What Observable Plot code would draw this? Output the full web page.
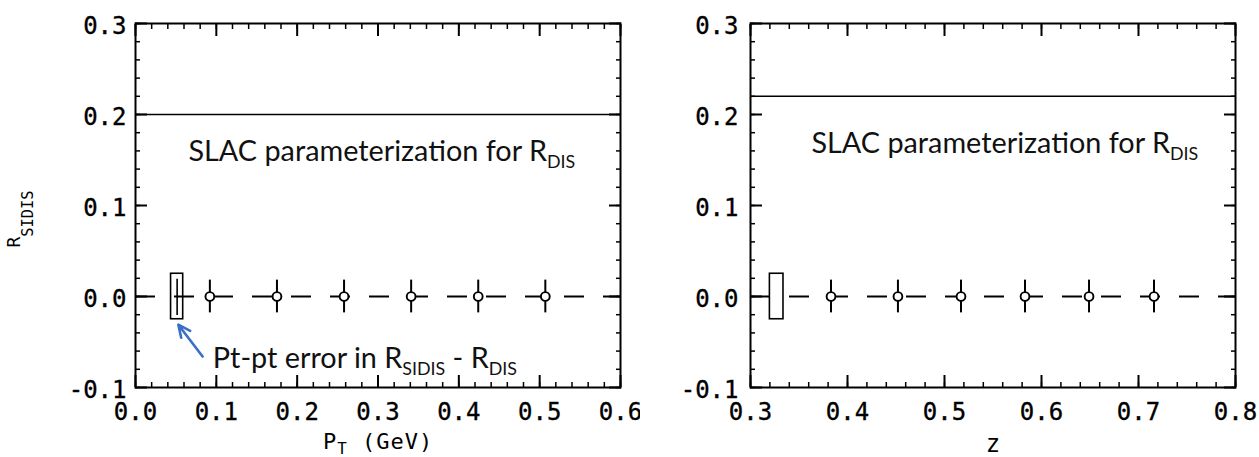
<!DOCTYPE html>
<html><head><meta charset="utf-8">
<script src="https://cdn.jsdelivr.net/npm/d3@7"></script>
<script src="https://cdn.jsdelivr.net/npm/@observablehq/plot@0.6"></script>
<style>
body{margin:0;background:#fff;}
#wrap{display:flex;width:1259px;height:457px;overflow:hidden;background:#fff;}
#wrap svg{overflow:visible;}
g[aria-label="y-axis tick label"] text, g[aria-label="x-axis tick label"] text{stroke:black;stroke-width:0.35px;}
.axlab text{letter-spacing:1px;}
</style></head><body><div id="wrap"></div>
<script>
// ---- Left panel: R_SIDIS vs P_T ----
const ptX   = [0.092, 0.175, 0.258, 0.341, 0.424, 0.507];
const ptR   = [0, 0, 0, 0, 0, 0];
const ptErr = [0.018, 0.018, 0.018, 0.018, 0.018, 0.018];
const ptBoxX = [0.044, 0.059];     // point-to-point error box (x extent)
const ptBoxY = [-0.025, 0.025];    // (y extent)
const ptBoxC = 0.0515;
const ptSlac = 0.20;
const ptTicks = [0.0, 0.1, 0.2, 0.3, 0.4, 0.5, 0.6];

// ---- Right panel: R_SIDIS vs z ----
const zX   = [0.383, 0.452, 0.517, 0.583, 0.649, 0.716];
const zR   = [0, 0, 0, 0, 0, 0];
const zErr = [0.018, 0.018, 0.018, 0.018, 0.018, 0.018];
const zBoxX = [0.320, 0.334];
const zBoxY = [-0.025, 0.025];
const zSlac = 0.22;
const zTicks = [0.3, 0.4, 0.5, 0.6, 0.7, 0.8];

const yTicks = [-0.1, 0.0, 0.1, 0.2, 0.3];

// ---- annotation texts (anchored in data space) ----
const ptNotes = [
  {x: 0.0655, y: 0.159, text: "SLAC parameterization for R_{DIS}", size: 28.8},
  {x: 0.0956, y: -0.068, text: "Pt-pt error in R_{SIDIS} - R_{DIS}", size: 28.8}
];
const ptArrow = [{x1: 0.083, y1: -0.066, x2: 0.053, y2: -0.031}];
const zNotes = [
  {x: 0.3628, y: 0.168, text: "SLAC parameterization for R_{DIS}", size: 28.8}
];

const fmt = d => d.toFixed(1);
const minor = (a, b) => d3.range(0, Math.round((b - a) / 0.02) + 1).map(i => +(a + i * 0.02).toFixed(3));

function frameAxes(xMajor, xMin, xMax, yPad) {
  const xm = minor(xMin, xMax), ym = minor(-0.1, 0.3);
  return [
    Plot.axisX({anchor: "bottom", ticks: xMajor, tickSize: -12, fill: "none", label: null, strokeWidth: 2}),
    Plot.axisX({anchor: "bottom", ticks: xm, tickSize: -5, fill: "none", label: null, strokeWidth: 1.5}),
    Plot.axisX({anchor: "top", ticks: xMajor, tickSize: -12, fill: "none", label: null, strokeWidth: 2}),
    Plot.axisX({anchor: "top", ticks: xm, tickSize: -5, fill: "none", label: null, strokeWidth: 1.5}),
    Plot.axisY({anchor: "left", ticks: yTicks, tickSize: -12, fill: "none", label: null, strokeWidth: 2}),
    Plot.axisY({anchor: "left", ticks: ym, tickSize: -5, fill: "none", label: null, strokeWidth: 1.5}),
    Plot.axisY({anchor: "right", ticks: yTicks, tickSize: -12, fill: "none", label: null, strokeWidth: 2}),
    Plot.axisY({anchor: "right", ticks: ym, tickSize: -5, fill: "none", label: null, strokeWidth: 1.5}),
    Plot.axisX({anchor: "bottom", ticks: xMajor, tickSize: 0, tickPadding: 15, tickFormat: fmt, label: null,
                fontSize: 24, fill: "black"}),
    Plot.axisY({anchor: "left", ticks: yTicks, tickSize: 0, tickPadding: yPad, tickFormat: fmt, label: null,
                fontSize: 24, dy: 3, fill: "black"}),
    Plot.frame({stroke: "black", strokeWidth: 2})
  ];
}

function dataMarks(xs, rs, errs, boxX, boxY, slac) {
  const pts = xs.map((x, i) => ({x, r: rs[i], e: errs[i]}));
  return [
    Plot.ruleY([slac], {stroke: "black", strokeWidth: 1.6}),
    Plot.ruleY([0], {stroke: "black", strokeWidth: 1.8, strokeDasharray: "20,19"}),
    Plot.rect([{x1: boxX[0], x2: boxX[1], y1: boxY[0], y2: boxY[1]}],
              {x1: "x1", x2: "x2", y1: "y1", y2: "y2", fill: "none", stroke: "black", strokeWidth: 1.6}),
    Plot.ruleX(pts, {x: "x", y1: d => d.r - d.e, y2: d => d.r + d.e, stroke: "black", strokeWidth: 2}),
    Plot.dot(pts, {x: "x", y: "r", r: 4.4, fill: "white", stroke: "black", strokeWidth: 1.9})
  ];
}

const common = {
  width: 640, height: 457, marginTop: 23, marginBottom: 70,
  y: {domain: [-0.1, 0.3]},
  style: {fontFamily: "DejaVu Sans Mono", fontSize: "20px", background: "white", color: "black", overflow: "visible"}
};

const left = Plot.plot({
  ...common,
  width: 640, marginLeft: 135, marginRight: 20,
  x: {domain: [0, 0.6]},
  marks: [
    ...frameAxes(ptTicks, 0, 0.6, 9),
    ...dataMarks(ptX, ptR, ptErr, ptBoxX, ptBoxY, ptSlac),
    Plot.ruleX([ptBoxC], {y1: ptBoxY[0] + 0.004, y2: ptBoxY[1] - 0.006, stroke: "black", strokeWidth: 1.6}),
    Plot.arrow(ptArrow, {x1: "x1", y1: "y1", x2: "x2", y2: "y2", stroke: "#3a6fc6", strokeWidth: 2.6,
                         headLength: 13, headAngle: 50}),
    Plot.text(ptNotes, {x: "x", y: "y", text: "text", textAnchor: "start", fontFamily: "Lato", fontSize: "size", fill: "#111"}),
    Plot.text(["R_[SIDIS]"], {frameAnchor: "left", text: d => d, rotate: -90, dx: -121, dy: 42, fontSize: 18, fill: "black"}),
    Plot.text(["P_(T) (GeV)"], {frameAnchor: "bottom", text: d => d, dy: 61, fontSize: 22, fill: "black", className: "axlab"})
  ]
});

const right = Plot.plot({
  ...common,
  width: 619, marginLeft: 110, marginRight: 24,
  x: {domain: [0.3, 0.8]},
  marks: [
    ...frameAxes(zTicks, 0.3, 0.8, 12),
    ...dataMarks(zX, zR, zErr, zBoxX, zBoxY, zSlac),
    Plot.text(zNotes, {x: "x", y: "y", text: "text", textAnchor: "start", fontFamily: "Lato", fontSize: "size", fill: "#111"}),
    Plot.text(["z"], {frameAnchor: "bottom", text: d => d, dy: 64, fontSize: 24, fill: "black"})
  ]
});

const wrap = document.getElementById("wrap");
wrap.appendChild(left);
wrap.appendChild(right);

function applySubs(root) {
  root.querySelectorAll("text").forEach(t => {
    const s = t.textContent;
    if (!/_[\{\[\(]/.test(s)) return;
    const fs = parseFloat(getComputedStyle(t).fontSize);
    const parts = s.split(/(_\{[^}]*\}|_\[[^\]]*\]|_\([^)]*\))/).filter(p => p !== "");
    while (t.firstChild) t.removeChild(t.firstChild);
    let shift = 0;
    for (const p of parts) {
      const ts = document.createElementNS("http://www.w3.org/2000/svg", "tspan");
      let size = fs, target = 0, txt = p;
      if (p.startsWith("_{")) { size = fs * 0.62; target = fs * 0.24; txt = p.slice(2, -1); }
      else if (p.startsWith("_[")) { size = fs * 0.85; target = fs * 0.72; txt = p.slice(2, -1); }
      else if (p.startsWith("_(")) { size = fs * 0.72; target = fs * 0.25; txt = p.slice(2, -1); }
      ts.setAttribute("font-size", size);
      if (target - shift !== 0) ts.setAttribute("dy", target - shift);
      shift = target;
      ts.textContent = txt;
      t.appendChild(ts);
    }
  });
}
applySubs(left);
applySubs(right);
</script></body></html>
